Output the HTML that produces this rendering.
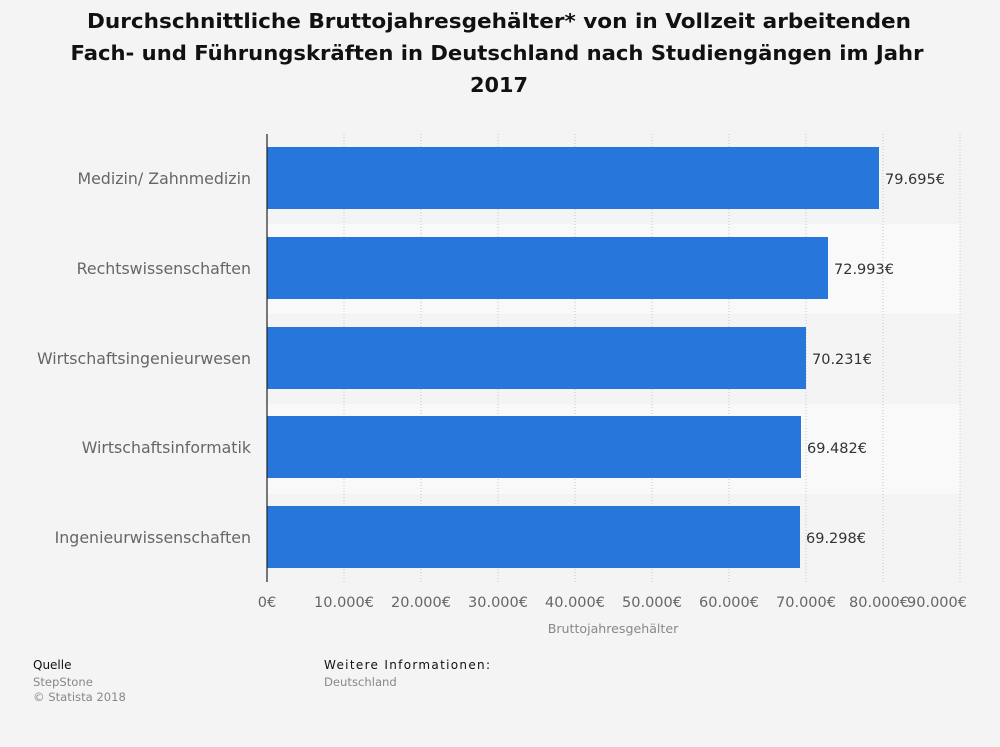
<!DOCTYPE html>
<html><head><meta charset="utf-8"><style>
body{margin:0;background:#f4f4f4;font-family:"DejaVu Sans","Liberation Sans",sans-serif;}
</style></head><body>
<svg width="1000" height="743" xmlns="http://www.w3.org/2000/svg" font-family="DejaVu Sans, Liberation Sans, sans-serif">
<rect width="1000" height="743" fill="#f4f4f4"/>
<g font-size="20" font-weight="bold" fill="#111" text-anchor="middle">
<text x="499" y="28" textLength="824" lengthAdjust="spacingAndGlyphs">Durchschnittliche Bruttojahresgehälter* von in Vollzeit arbeitenden</text>
<text x="497" y="60" textLength="853" lengthAdjust="spacingAndGlyphs">Fach- und Führungskräften in Deutschland nach Studiengängen im Jahr</text>
<text x="499" y="92" textLength="58" lengthAdjust="spacingAndGlyphs">2017</text>
</g>
<rect x="267" y="224" width="693" height="90" fill="#f9f9f9"/>
<rect x="267" y="404" width="693" height="90" fill="#f9f9f9"/>
<g stroke="#c8c8c8" stroke-dasharray="1,2">
<line x1="344" y1="134" x2="344" y2="582"/><line x1="421" y1="134" x2="421" y2="582"/>
<line x1="498" y1="134" x2="498" y2="582"/><line x1="575" y1="134" x2="575" y2="582"/>
<line x1="652" y1="134" x2="652" y2="582"/><line x1="729" y1="134" x2="729" y2="582"/>
<line x1="806" y1="134" x2="806" y2="582"/><line x1="883" y1="134" x2="883" y2="582"/>
<line x1="960" y1="134" x2="960" y2="582"/>
</g>
<g fill="#2776dc">
<rect x="267" y="147" width="612" height="62"/>
<rect x="267" y="237" width="561" height="62"/>
<rect x="267" y="327" width="539" height="62"/>
<rect x="267" y="416" width="534" height="62"/>
<rect x="267" y="506" width="533" height="62"/>
</g>
<line x1="267" y1="134" x2="267" y2="582" stroke="#222" stroke-width="1.2"/>
<g font-size="14.5" fill="#333">
<text x="885" y="184">79.695€</text><text x="834" y="274">72.993€</text>
<text x="812" y="364">70.231€</text><text x="807" y="453">69.482€</text>
<text x="806" y="543">69.298€</text>
</g>
<g font-size="15.8" fill="#666" text-anchor="end">
<text x="251" y="184">Medizin/ Zahnmedizin</text><text x="251" y="274">Rechtswissenschaften</text>
<text x="251" y="364">Wirtschaftsingenieurwesen</text><text x="251" y="453">Wirtschaftsinformatik</text>
<text x="251" y="543">Ingenieurwissenschaften</text>
</g>
<g font-size="14.5" fill="#666" text-anchor="middle">
<text x="267" y="607">0€</text><text x="344" y="607">10.000€</text><text x="421" y="607">20.000€</text>
<text x="498" y="607">30.000€</text><text x="575" y="607">40.000€</text><text x="652" y="607">50.000€</text>
<text x="729" y="607">60.000€</text><text x="806" y="607">70.000€</text><text x="879" y="607">80.000€</text>
<text x="937" y="607">90.000€</text>
</g>
<text x="613" y="633" font-size="12.6" fill="#888" text-anchor="middle">Bruttojahresgehälter</text>
<text x="33" y="669" font-size="12" fill="#111">Quelle</text>
<text x="33" y="686" font-size="11.6" fill="#888">StepStone</text>
<text x="33" y="701" font-size="11.6" fill="#888">© Statista 2018</text>
<text x="324" y="669" font-size="12" fill="#111" textLength="166" lengthAdjust="spacing">Weitere Informationen:</text>
<text x="324" y="686" font-size="11.6" fill="#888">Deutschland</text>
</svg>
</body></html>
